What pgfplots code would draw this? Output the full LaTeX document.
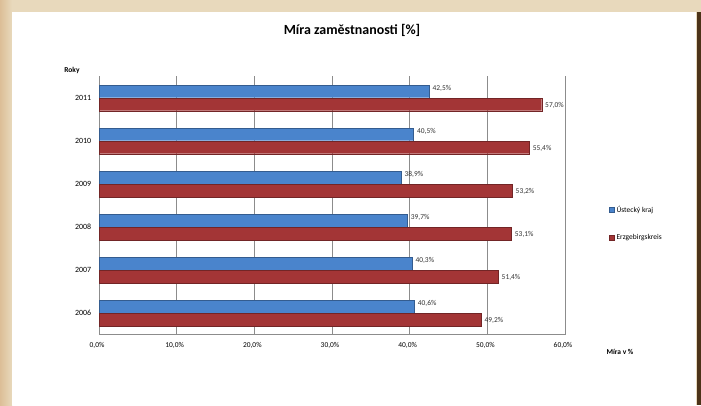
\documentclass[border=0pt]{standalone}
\usepackage{pgfplots}
\pgfplotsset{compat=1.18}
\usepackage{fontspec}
\setmainfont{Carlito}
\definecolor{bluebar}{HTML}{4A84CC}
\definecolor{redbar}{HTML}{A33536}
\definecolor{beige}{HTML}{E8D9BC}
\definecolor{gridgray}{HTML}{8C8C8C}
\begin{document}
\begin{tikzpicture}[x=1bp,y=1bp]
\useasboundingbox (0,0) rectangle (701,405);
\fill[beige] (0,0) rectangle (701,405);
\fill[left color=beige!70!brown, right color=beige] (0,0) rectangle (12,405);
\fill[white] (12,0) rectangle (696,393);
\fill[black!60!brown] (697,0) rectangle (701,393);
\node[font=\bfseries\fontsize{14}{16}\selectfont] at (352,375) {Míra zaměstnanosti [\%]};
\node[font=\bfseries\fontsize{7.5}{8}\selectfont] at (72,335) {Roky};
\node[font=\bfseries\fontsize{7.5}{8}\selectfont, anchor=west] at (603,53) {Míra v \%};
\begin{axis}[
  at={(99bp,70.5bp)}, anchor=south west,
  scale only axis, width=466bp, height=258bp,
  xbar, bar width=12.5bp,
  xmin=0, xmax=60, ymin=-0.5, ymax=5.5,
  xtick={0,10,...,60},
  ytick={0,...,5},
  yticklabels={2006,2007,2008,2009,2010,2011},
  xmajorgrids, major grid style={gridgray, line width=0.6pt},
  axis line style={gridgray},
  axis x line*=bottom, axis y line*=left,
  tick style={draw=none},
  /pgf/number format/assume math mode=true,
  xticklabel={\pgfmathprintnumber[fixed,fixed zerofill,precision=1,use comma]{\tick}\%},
  xticklabel style={font=\fontsize{7.5}{8}\selectfont, xshift=-2bp, yshift=-4bp},
  yticklabel style={font=\fontsize{8}{9}\selectfont},
  nodes near coords={\pgfmathprintnumber[fixed,fixed zerofill,precision=1,use comma]{\pgfplotspointmeta}\%},
  nodes near coords style={font=\fontsize{7.5}{8}\selectfont, text=black!80},
  legend style={at={(1.088,0.515)}, anchor=north west, draw=none, fill=none,
    font=\fontsize{7.5}{8}\selectfont, row sep=17bp},
  legend cell align=left,
  legend image code/.code={\fill[#1] (0bp,-2.5bp) rectangle (5bp,2.5bp);},
  clip=false,
]
\addplot+[bar shift=6.5bp, fill=bluebar, draw=bluebar!70!black,
  nodes near coords style={yshift=3bp}]
  coordinates {(40.6,0) (40.3,1) (39.7,2) (38.9,3) (40.5,4) (42.5,5)};
\addplot+[bar shift=-6.5bp, fill=redbar, draw=redbar!70!black,
  nodes near coords style={yshift=-1bp}]
  coordinates {(49.2,0) (51.4,1) (53.1,2) (53.2,3) (55.4,4) (57.0,5)};
\legend{Ústecký kraj, Erzgebirgskreis}
\end{axis}
\end{tikzpicture}
\end{document}
